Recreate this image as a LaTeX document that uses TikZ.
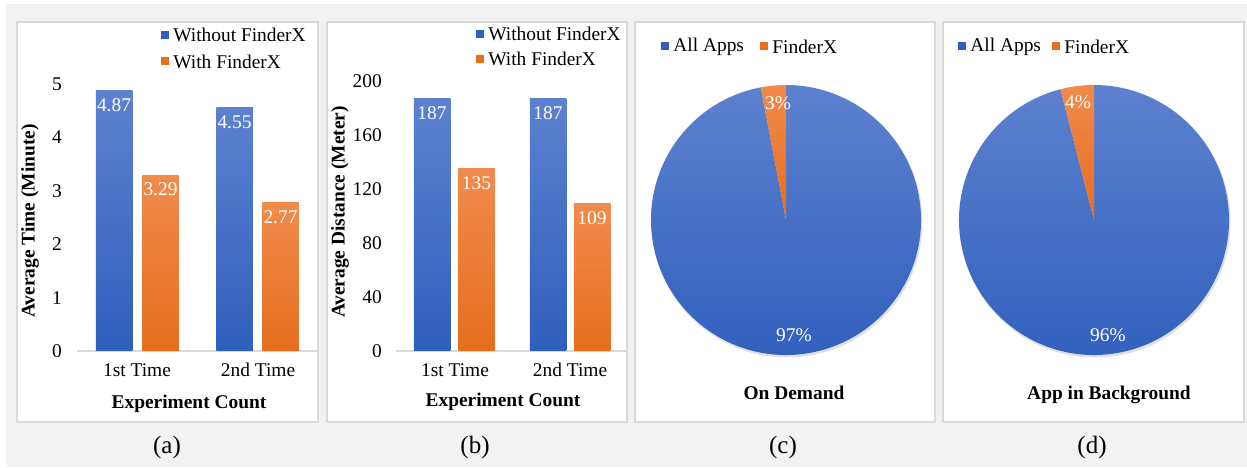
\documentclass[tikz,border=0pt]{standalone}
\usepackage{fontspec}
\setmainfont{Liberation Serif}
\usepackage{tikz}
\usetikzlibrary{positioning}
\usepackage{xcolor}
\definecolor{blueTop}{RGB}{93,129,207}
\definecolor{blueBot}{RGB}{47,95,189}
\definecolor{orangeTop}{RGB}{240,139,76}
\definecolor{orangeBot}{RGB}{230,110,30}
\definecolor{pageGray}{RGB}{242,242,242}
\definecolor{panelLine}{RGB}{217,217,217}

\begin{document}
\begin{tikzpicture}[
  x=1pt, y=1pt,
  every node/.style={inner sep=0pt, font=\fontsize{19.4}{22}\selectfont},
  panelBox/.style={draw=panelLine, line width=1.5pt, fill=white},
  barBlue/.style={rectangle, anchor=south, minimum width=36.5, top color=blueTop, bottom color=blueBot},
  barOrange/.style={rectangle, anchor=south, minimum width=36.5, top color=orangeTop, bottom color=orangeBot},
  valLabel/.style={text=white},
  tickLabel/.style={anchor=east},
  axisTitle/.style={font=\fontsize{19.4}{22}\selectfont\bfseries},
  legSq/.style={rectangle, minimum size=8},
  legText/.style={anchor=west},
  subCap/.style={font=\fontsize{25}{30}\selectfont}
]
  \useasboundingbox (0,0) rectangle (1247,467);
  \fill[white] (0,0) rectangle (1247,467);
  \fill[pageGray] (6,0) rectangle (1247,463);

  % Panels
  \draw[panelBox] (17,45) rectangle (318,445);
  \draw[panelBox] (327,45) rectangle (627,445);
  \draw[panelBox] (635,45) rectangle (935,445);
  \draw[panelBox] (943,45) rectangle (1244,445);

  % (a) average time
  \draw[panelLine, line width=1.5] (77,116) -- (317,116);
  \foreach \v in {0,...,5}
    \node[tickLabel] (ta\v) at (62,{116+53.4*\v}) {\v};
  \node[barBlue, minimum height=260.1] (a1) at (114,116) {};
  \node[barOrange, minimum height=175.7] (a2) at (160.5,116) {};
  \node[barBlue, minimum height=243.0] (a3) at (234.5,116) {};
  \node[barOrange, minimum height=147.9] (a4) at (280.5,116) {};
  \node[valLabel, below=8pt of a1.north] (va1) {4.87};
  \node[valLabel, below=8pt of a2.north] (va2) {3.29};
  \node[valLabel, below=8pt of a3.north] (va3) {4.55};
  \node[valLabel, below=8pt of a4.north] (va4) {2.77};
  \node (ca1) at (137,97) {1st Time};
  \node (ca2) at (258,97) {2nd Time};
  \node[axisTitle] (xa) at (189,63) {Experiment Count};
  \node[axisTitle, rotate=90] (ya) at (30,246) {Average Time (Minute)};
  \node[legSq, fill=blueBot] (la1) at (165,432) {};
  \node[legText, right=4pt of la1] (lta1) {Without FinderX};
  \node[legSq, fill=orangeBot] (la2) at (165,405.5) {};
  \node[legText, right=4pt of la2] (lta2) {With FinderX};

  % (b) average distance
  \draw[panelLine, line width=1.5] (396,116) -- (627,116);
  \foreach \v in {0,40,...,200}
    \node[tickLabel] (tb\v) at (382,{116+1.35*\v}) {\v};
  \node[barBlue, minimum height=252.5] (b1) at (432,116) {};
  \node[barOrange, minimum height=182.3] (b2) at (476.5,116) {};
  \node[barBlue, minimum height=252.5] (b3) at (548,116) {};
  \node[barOrange, minimum height=147.2] (b4) at (592,116) {};
  \node[valLabel, below=8pt of b1.north] (vb1) {187};
  \node[valLabel, below=8pt of b2.north] (vb2) {135};
  \node[valLabel, below=8pt of b3.north] (vb3) {187};
  \node[valLabel, below=8pt of b4.north] (vb4) {109};
  \node (cb1) at (455,97) {1st Time};
  \node (cb2) at (570,97) {2nd Time};
  \node[axisTitle] (xb) at (503,65) {Experiment Count};
  \node[axisTitle, rotate=90] (yb) at (340,255) {Average Distance (Meter)};
  \node[legSq, fill=blueBot] (lb1) at (480,433) {};
  \node[legText, right=4pt of lb1] (ltb1) {Without FinderX};
  \node[legSq, fill=orangeBot] (lb2) at (480,408) {};
  \node[legText, right=4pt of lb2] (ltb2) {With FinderX};

  % (c) on demand pie
  \coordinate (pc) at (786,247);
  \fill[black, opacity=0.12] (787,245) circle[radius=135.5];
  \shade[top color=blueTop, bottom color=blueBot] (pc) -- ++(100.8:135)
    arc[start angle=100.8, end angle=450, radius=135] -- cycle;
  \shade[top color=orangeTop, bottom color=orangeBot] (pc) -- ++(90:135)
    arc[start angle=90, end angle=100.8, radius=135] -- cycle;
  \node[valLabel] (vc1) at (778,364) {3\%};
  \node[valLabel] (vc2) at (794,132) {97\%};
  \node[axisTitle] (tc) at (794,74) {On Demand};
  \node[legSq, fill=blueBot] (lc1) at (665,420.5) {};
  \node[legText, right=4pt of lc1] (ltc1) {All Apps};
  \node[legSq, fill=orangeBot] (lc2) at (764,420.5) {};
  \node[legText, right=4pt of lc2] (ltc2) {FinderX};

  % (d) background pie
  \coordinate (pd) at (1094,247);
  \fill[black, opacity=0.12] (1095,245) circle[radius=135.5];
  \shade[top color=blueTop, bottom color=blueBot] (pd) -- ++(104.4:135)
    arc[start angle=104.4, end angle=450, radius=135] -- cycle;
  \shade[top color=orangeTop, bottom color=orangeBot] (pd) -- ++(90:135)
    arc[start angle=90, end angle=104.4, radius=135] -- cycle;
  \node[valLabel] (vd1) at (1078,365) {4\%};
  \node[valLabel] (vd2) at (1108,132) {96\%};
  \node[axisTitle] (td) at (1109,72) {App in Background};
  \node[legSq, fill=blueBot] (ld1) at (962,420.5) {};
  \node[legText, right=4pt of ld1] (ltd1) {All Apps};
  \node[legSq, fill=orangeBot] (ld2) at (1056,420.5) {};
  \node[legText, right=4pt of ld2] (ltd2) {FinderX};

  % Sub-captions
  \node[subCap] (capa) at (167,20) {(a)};
  \node[subCap] (capb) at (475,20) {(b)};
  \node[subCap] (capc) at (783,20) {(c)};
  \node[subCap] (capd) at (1092,20) {(d)};
\end{tikzpicture}
\end{document}
